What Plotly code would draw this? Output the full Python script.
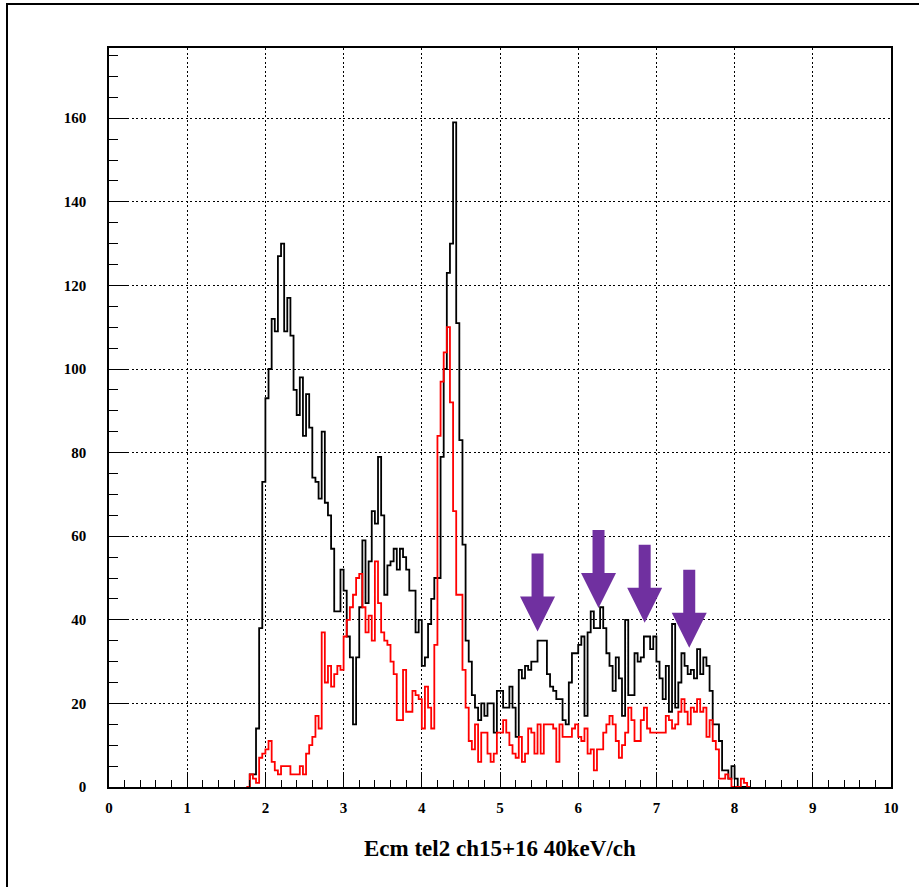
import plotly.graph_objects as go

# Histogram binning: 40 keV per channel, first channel edge at 1.76 MeV
BIN_START = 1.76
BIN_WIDTH = 0.04

# All events (black) per channel, starting at 1.76
counts_all = [
    0, 3, 3, 14, 38, 73, 93, 100, 112, 109,
    127, 130, 109, 117, 108, 95, 89, 98, 84, 94,
    86, 74, 73, 69, 85, 68, 65, 57, 42, 42,
    52, 47, 36, 31, 15, 31, 43, 59, 44, 54,
    66, 63, 79, 65, 46, 53, 54, 57, 52, 57,
    55, 52, 47, 47, 37, 40, 29, 31, 39, 45,
    50, 50, 79, 100, 123, 130, 159, 111, 83, 58,
    35, 30, 22, 19, 16, 20, 17, 20, 20, 13,
    23, 23, 19, 19, 24, 19, 12, 28, 26, 29,
    28, 30, 30, 35, 35, 35, 27, 24, 23, 21,
    21, 16, 15, 25, 32, 32, 34, 36, 17, 37,
    42, 38, 38, 43, 38, 32, 29, 23, 31, 26,
    17, 40, 22, 22, 32, 30, 31, 36, 36, 33,
    36, 30, 26, 21, 29, 18, 39, 19, 25, 32,
    29, 27, 28, 26, 33, 27, 31, 29, 23, 15,
    15, 11, 4, 4, 2, 5, 2, 0, 0, 0,
    0,
]

# Selected events (red) per channel, same binning
counts_sel = [
    0, 3, 2, 1, 7, 8, 9, 11, 6, 4,
    3, 5, 5, 5, 3, 3, 3, 5, 3, 8,
    10, 12, 17, 14, 37, 25, 29, 24, 27, 29,
    28, 36, 40, 43, 46, 50, 51, 43, 37, 41,
    35, 54, 44, 37, 35, 34, 30, 27, 16, 16,
    28, 18, 18, 23, 22, 21, 14, 24, 19, 14,
    34, 84, 97, 104, 110, 92, 66, 46, 46, 28,
    19, 11, 9, 15, 6, 13, 13, 8, 6, 8,
    13, 13, 16, 13, 10, 8, 7, 12, 6, 8,
    14, 13, 8, 15, 8, 15, 15, 15, 14, 6,
    15, 12, 12, 12, 14, 15, 12, 11, 14, 8,
    9, 4, 9, 9, 13, 15, 17, 15, 11, 7,
    10, 13, 19, 16, 11, 11, 16, 19, 14, 13,
    13, 13, 13, 13, 17, 16, 14, 15, 18, 21,
    18, 15, 19, 18, 21, 18, 19, 12, 16, 11,
    9, 2, 2, 3, 2, 0, 0, 0, 2, 1,
    0,
]

# Axis labelling
x_ticks = list(range(0, 11))
y_ticks = list(range(0, 161, 20))
x_title = "Ecm tel2 ch15+16 40keV/ch"

# Peaks marked with arrows: (energy, count at arrow tip)
marked_peaks = [(5.48, 37.2), (6.26, 42.8), (6.85, 39.3), (7.42, 33.3)]


def step_points(counts):
    """Left bin edges plus closing right edge, for an 'hv' step outline."""
    n = len(counts)
    edges = [round(BIN_START + i * BIN_WIDTH, 4) for i in range(n + 1)]
    return edges, list(counts) + [counts[-1]]


fig = go.Figure()

for counts, colour in ((counts_all, "#000000"), (counts_sel, "#ff0000")):
    xs, ys = step_points(counts)
    fig.add_trace(go.Scatter(
        x=xs, y=ys, mode="lines",
        line=dict(color=colour, width=1.8, shape="hv"),
        hoverinfo="skip", showlegend=False,
    ))

# Purple downward arrows, drawn in pixels around each tip
ARROW = "M0,0 L-17.5,35 L-6,35 L-6,78 L6,78 L6,35 L17.5,35 Z"
for ex, cy in marked_peaks:
    fig.add_shape(
        type="path", path=ARROW,
        xref="x", yref="y", xsizemode="pixel", ysizemode="pixel",
        xanchor=ex, yanchor=cy,
        fillcolor="#7030a0", line=dict(width=0), layer="above",
    )

# Outer canvas frame (only left and top edges fall inside the page)
fig.add_shape(type="rect", xref="paper", yref="paper",
              x0=(7 - 109) / 782, x1=1.2, y0=-0.3, y1=(787 - 4) / 739,
              line=dict(color="#000000", width=2), fillcolor="rgba(0,0,0,0)",
              layer="below")

fig.add_annotation(
    text=x_title, xref="paper", yref="paper", x=0.5, y=(787 - 848) / 739,
    xanchor="center", yanchor="middle", showarrow=False,
    font=dict(family="Liberation Serif", size=23, color="#000000", weight="bold"),
)

tick_font = dict(family="Liberation Serif", size=15, color="#000000", weight="bold")
grid_dash = "2px,2.5px"

fig.update_xaxes(
    range=[0, 10], tickvals=x_ticks, ticktext=[str(v) for v in x_ticks],
    ticks="inside", ticklen=15, tickwidth=1.3, tickcolor="#000000",
    minor=dict(dtick=0.2, ticks="inside", ticklen=7, tickwidth=1.3,
               tickcolor="#000000", showgrid=False),
    showline=True, linecolor="#000000", linewidth=1.6, mirror=True,
    showgrid=True, gridcolor="#000000", gridwidth=1, griddash=grid_dash,
    zeroline=False, tickfont=tick_font, ticklabelstandoff=6,
)
fig.update_yaxes(
    range=[0, 176.8], tickvals=y_ticks, ticktext=[str(v) for v in y_ticks],
    ticks="inside", ticklen=18, tickwidth=1.3, tickcolor="#000000",
    minor=dict(dtick=5, ticks="inside", ticklen=9, tickwidth=1.3,
               tickcolor="#000000", showgrid=False),
    showline=True, linecolor="#000000", linewidth=1.6, mirror=True,
    showgrid=True, gridcolor="#000000", gridwidth=1, griddash=grid_dash,
    zeroline=False, tickfont=tick_font, ticklabelstandoff=18,
)

fig.update_layout(
    width=919, height=887, autosize=False,
    margin=dict(l=109, r=28, t=48, b=100),
    paper_bgcolor="#ffffff", plot_bgcolor="#ffffff",
    showlegend=False,
)

fig.write_html("out.html")
